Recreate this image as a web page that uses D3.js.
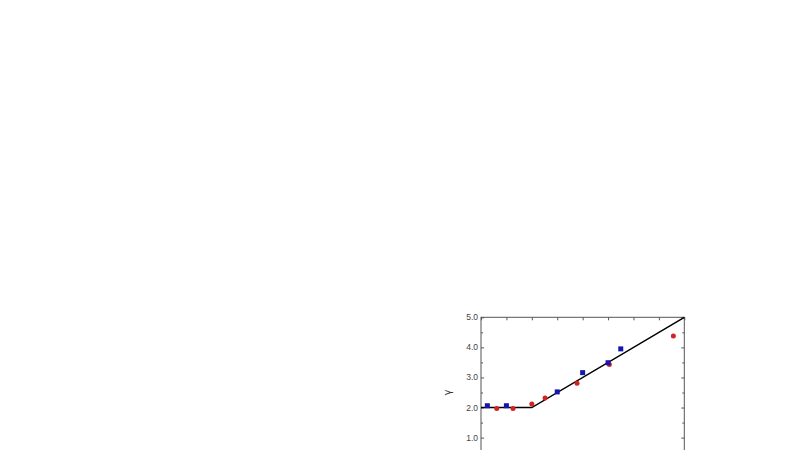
<!DOCTYPE html>
<html><head><meta charset="utf-8">
<script src="https://cdn.jsdelivr.net/npm/d3@7"></script>
<style>html,body{margin:0;padding:0;background:#fff;}svg{display:block;}</style>
</head><body>
<svg id="chart" width="800" height="450"></svg>
<script>
// Data
const blueX = [0.25, 1.0, 3.0, 4.0, 5.0, 5.5];
const blueY = [2.06, 2.06, 2.52, 3.16, 3.49, 3.95];
const redX = [0.62, 1.26, 2.0, 2.52, 3.78, 5.05, 7.57];
const redY = [1.97, 1.97, 2.12, 2.32, 2.81, 3.43, 4.38];
const lineX = [0, 2, 8];
const lineY = [2, 2, 5];
const yTicks = [1, 2, 3, 4, 5];
const yMinorTicks = [0.5, 1.5, 2.5, 3.5, 4.5];
const xTicks = [0, 1, 2, 3, 4, 5, 6, 7, 8];
const yLabel = "γ";

(function () {
const svg = d3.select("#chart");
const pLeft = 481, pRight = 684.3, pTop = 317.3, pBottom = 467.7;
const x = d3.scaleLinear().domain([0, 8]).range([pLeft, pRight]);
const y = d3.scaleLinear().domain([0, 5]).range([pBottom, pTop]);
const axisColor = "#555";

// frame
svg.append("rect").attr("x", pLeft).attr("y", pTop).attr("width", pRight - pLeft).attr("height", pBottom - pTop)
  .attr("fill", "none").attr("stroke", axisColor).attr("stroke-width", 1);

function ticks(axisFn, scale, vals, size, tx, ty) {
  const g = svg.append("g").attr("transform", `translate(${tx},${ty})`)
    .call(axisFn(scale).tickValues(vals).tickSize(size).tickFormat(""));
  g.select(".domain").remove();
  g.selectAll("line").attr("stroke", axisColor);
}
ticks(d3.axisRight, y, yTicks, 3, pLeft, 0);
ticks(d3.axisRight, y, yMinorTicks, 2, pLeft, 0);
ticks(d3.axisLeft, y, yTicks, 3, pRight, 0);
ticks(d3.axisLeft, y, yMinorTicks, 2, pRight, 0);
ticks(d3.axisBottom, x, xTicks, 3, 0, pTop);
ticks(d3.axisTop, x, xTicks, 3, 0, pBottom);

// left labels
svg.append("g").selectAll("text").data(yTicks).join("text")
  .attr("x", pLeft - 3).attr("y", d => y(d)).attr("dy", "0.35em")
  .attr("text-anchor", "end").attr("font-family", "Liberation Sans, Arial, sans-serif")
  .attr("font-size", 8.5).attr("fill", "#444").text(d => d3.format(".1f")(d));

// y label
svg.append("text").attr("transform", `translate(451,${(pTop + pBottom) / 2}) rotate(-90)`)
  .attr("text-anchor", "middle").attr("font-family", "DejaVu Sans, sans-serif")
  .attr("font-size", 10).attr("fill", "#333").text(yLabel);

// model line
const lineData = lineX.map((v, i) => [v, lineY[i]]);
svg.append("path").datum(lineData)
  .attr("d", d3.line().x(d => x(d[0])).y(d => y(d[1])))
  .attr("fill", "none").attr("stroke", "#000").attr("stroke-width", 1.5);

// red circles
svg.append("g").selectAll("circle").data(redX.map((v, i) => [v, redY[i]])).join("circle")
  .attr("cx", d => x(d[0])).attr("cy", d => y(d[1])).attr("r", 2.5).attr("fill", "#d42222");

// blue squares
const s = 5;
svg.append("g").selectAll("rect.sq").data(blueX.map((v, i) => [v, blueY[i]])).join("rect")
  .attr("class", "sq")
  .attr("x", d => x(d[0]) - s / 2).attr("y", d => y(d[1]) - s / 2)
  .attr("width", s).attr("height", s).attr("fill", "#1515b0");
})();
</script>
</body></html>
